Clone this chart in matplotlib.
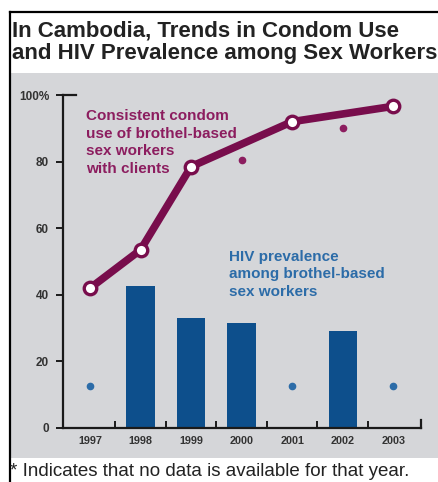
import matplotlib
matplotlib.use("Agg")
import matplotlib.pyplot as plt
from matplotlib.patches import Rectangle
from matplotlib.lines import Line2D

plt.rcParams["font.family"] = ["Liberation Sans", "DejaVu Sans"]

# 数据
years = ["1997", "1998", "1999", "2000", "2001", "2002", "2003"]
condom_years = [0, 1, 2, 4, 6]          # 有数据的年份下标
condom_pct = [42, 53.5, 78.5, 92, 96.6]
condom_nodata_years = [3, 5]
condom_nodata_pos = [80.5, 90]           # 无数据年份星号的高度
hiv_years = [1, 2, 3, 5]
hiv_pct = [42.5, 33, 31.5, 29]
hiv_nodata_years = [0, 4, 6]
hiv_nodata_pos = [12.7, 12.7, 12.7]

yticks = [0, 20, 40, 60, 80, 100]
ytick_labels = ["0", "20", "40", "60", "80", "100%"]

MAGENTA = "#780d4c"
MAGENTA_TXT = "#8c1d5f"
BLUE = "#0d4f8c"
BLUE_TXT = "#2c6ca8"
GRAY = "#d5d6d9"

W, H = 439, 482
fig = plt.figure(figsize=(W / 100, H / 100), dpi=100)
fig.patch.set_facecolor("white")


def px_rect(x0, y0, x1, y1, **kw):
    fig.patches.append(Rectangle((x0 / W, 1 - y1 / H), (x1 - x0) / W, (y1 - y0) / H,
                                 transform=fig.transFigure, **kw))


# 灰色背景板与边框
px_rect(11, 73, 438, 458, facecolor=GRAY, edgecolor="none", zorder=-5)
fig.add_artist(Line2D([10 / W, 10 / W], [0, 1 - 12 / H], color="black", lw=1.6))
fig.add_artist(Line2D([10 / W, 1], [1 - 12 / H, 1 - 12 / H], color="black", lw=1.6))

fig.text(12 / W, 1 - 42 / H, "In Cambodia, Trends in Condom Use\nand HIV Prevalence among Sex Workers",
         fontsize=16, fontweight="bold", color="#222222", va="center", ha="left", linespacing=1.12)
fig.text(10 / W, 1 - 472 / H, "* Indicates that no data is available for that year.",
         fontsize=13.5, color="#222222", va="center", ha="left")

ax = fig.add_axes([63 / W, (H - 428) / H, 358 / W, 333 / H])
ax.set_facecolor("none")
ax.set_xlim(-0.535, 6.55)
ax.set_ylim(0, 100)

x = range(len(years))
ax.bar(hiv_years, hiv_pct, width=0.56, color=BLUE, zorder=2)
ax.plot(hiv_nodata_years, hiv_nodata_pos, ls="none", marker="o", ms=4.5, color=BLUE_TXT, zorder=3)

ax.plot(condom_years, condom_pct, color=MAGENTA, lw=5.5, marker="o", ms=9,
        mfc="white", mec=MAGENTA, mew=2.4, zorder=4, solid_capstyle="round")
ax.plot(condom_nodata_years, condom_nodata_pos, ls="none", marker="o", ms=4.5, color=MAGENTA_TXT, zorder=3)

ax.text(-0.08, 95.8, "Consistent condom\nuse of brothel-based\nsex workers\nwith clients",
        fontsize=11, fontweight="bold", color=MAGENTA_TXT, va="top", ha="left", linespacing=1.34)
ax.text(2.75, 53.6, "HIV prevalence\namong brothel-based\nsex workers",
        fontsize=11, fontweight="bold", color=BLUE_TXT, va="top", ha="left", linespacing=1.34)

# 坐标轴样式
for s in ["top", "right"]:
    ax.spines[s].set_visible(False)
for s in ["left", "bottom"]:
    ax.spines[s].set_linewidth(1.6)
    ax.spines[s].set_color("#1a1a1a")
ax.set_yticks(yticks)
ax.set_yticklabels(ytick_labels, fontsize=8.5, fontweight="bold", color="#333333")
ax.tick_params(axis="y", direction="out", length=5, width=1.4, pad=5, color="#1a1a1a")
ax.set_xticks(list(x))
ax.set_xticklabels(years, fontsize=7.8, fontweight="bold", color="#333333")
ax.tick_params(axis="x", length=0, pad=6)
ax.set_xticks([i + 0.5 for i in range(6)], minor=True)
ax.tick_params(axis="x", which="minor", direction="in", length=5, width=1.4, color="#1a1a1a")
# 顶端右向短横, 右端上翘短竖
ax.plot([0, 0.035], [1, 1], transform=ax.transAxes, color="#1a1a1a", lw=1.6, clip_on=False,
        solid_capstyle="projecting")
ax.plot([1, 1], [0, 0.025], transform=ax.transAxes, color="#1a1a1a", lw=1.6, clip_on=False,
        solid_capstyle="projecting")

fig.savefig("out.png", dpi=100)
